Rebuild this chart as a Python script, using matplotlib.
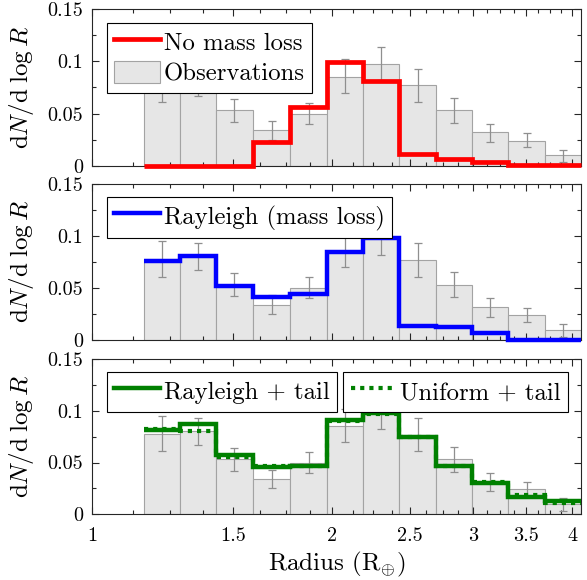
"""Radius distribution: observed histogram vs. three model step curves."""
import matplotlib

matplotlib.use("Agg")
import matplotlib.pyplot as plt  # noqa: E402
from matplotlib.ticker import FixedLocator, NullFormatter  # noqa: E402

plt.rcParams["font.family"] = ["cmr10"]
plt.rcParams["mathtext.fontset"] = "cm"
plt.rcParams["axes.unicode_minus"] = False
plt.rcParams["axes.formatter.use_mathtext"] = True

# radius bin edges (R_earth) and observed occurrence
bin_edges = [1.160, 1.290, 1.429, 1.591, 1.771, 1.970, 2.188,
             2.426, 2.699, 2.996, 3.324, 3.697, 4.107]
obs = [0.078, 0.080, 0.053, 0.034, 0.050, 0.085, 0.098,
       0.077, 0.053, 0.032, 0.024, 0.010]
obs_lo = [0.061, 0.067, 0.042, 0.025, 0.040, 0.070, 0.082,
          0.061, 0.041, 0.0225, 0.0177, 0.0033]
obs_hi = [0.095, 0.093, 0.064, 0.043, 0.0605, 0.102, 0.114,
          0.093, 0.065, 0.040, 0.031, 0.0154]

no_mass_loss = [0.0, 0.0, 0.0, 0.023, 0.0566, 0.099, 0.0816,
                0.0112, 0.0064, 0.0033, 0.0003, 0.0003]
rayleigh = [0.0763, 0.0808, 0.0522, 0.0417, 0.0439, 0.0849, 0.0978,
            0.0135, 0.0122, 0.0064, 0.0003, 0.0003]
rayleigh_tail = [0.081, 0.0875, 0.057, 0.0458, 0.0464, 0.0913, 0.0977,
                 0.0746, 0.0464, 0.0304, 0.0169, 0.013]
uniform_tail = [0.082, 0.0804, 0.0555, 0.047, 0.047, 0.090, 0.097,
                0.075, 0.047, 0.031, 0.0188, 0.0105]

x_major = [1, 1.5, 2, 2.5, 3, 3.5, 4]
x_labels = ["1", "1.5", "2", "2.5", "3", "3.5", "4"]
y_major = [0, 0.05, 0.1, 0.15]
y_labels = ["0", "0.05", "0.1", "0.15"]

BAR_FACE = "#e6e6e6"
BAR_EDGE = "#a3a3a3"
ERR_COL = "#8f8f8f"
SPINE = "#262626"


def _obs(ax):
    lefts = bin_edges[:-1]
    widths = [b - a for a, b in zip(bin_edges[:-1], bin_edges[1:])]
    bars = ax.bar(lefts, obs, width=widths, align="edge", color=BAR_FACE,
                  edgecolor=BAR_EDGE, linewidth=0.8, zorder=1)
    centers = [(a * b) ** 0.5 for a, b in zip(bin_edges[:-1], bin_edges[1:])]
    yerr = [[o - lo for o, lo in zip(obs, obs_lo)],
            [hi - o for o, hi in zip(obs, obs_hi)]]
    ax.errorbar(centers, obs, yerr=yerr, fmt="none", ecolor=ERR_COL,
                elinewidth=0.9, capsize=2.6, capthick=0.9, zorder=2)
    return bars


def _style(ax, bottom):
    ax.set_xscale("log")
    ax.set_xlim(1, bin_edges[-1])
    ax.set_ylim(0, 0.15)
    ax.xaxis.set_major_locator(FixedLocator(x_major))
    ax.xaxis.set_minor_locator(FixedLocator([1 + 0.125 * i for i in range(25)]))
    ax.xaxis.set_minor_formatter(NullFormatter())
    if bottom:
        ax.set_xticklabels(x_labels)
    else:
        ax.set_xticklabels([])
    ax.yaxis.set_major_locator(FixedLocator(y_major))
    ax.yaxis.set_minor_locator(FixedLocator([0.025, 0.075, 0.125]))
    ax.set_yticklabels(y_labels)
    ax.tick_params(which="both", direction="in", top=True, right=True,
                   color=SPINE, width=0.8, labelsize=14.5)
    ax.tick_params(which="major", length=5)
    ax.tick_params(which="minor", length=3)
    ax.tick_params(axis="y", pad=6.5)
    ax.tick_params(axis="x", pad=9)
    for s in ax.spines.values():
        s.set_color(SPINE)
        s.set_linewidth(0.8)
    ax.set_ylabel(r"$\mathrm{d}N/\mathrm{d}\;\log R$", fontsize=18, labelpad=8)


def _legend(ax, handles, labels, x):
    leg = ax.legend(handles, labels, loc="upper left", bbox_to_anchor=(x, 0.914),
                    borderaxespad=0, fontsize=17.8, fancybox=False,
                    framealpha=1, edgecolor="black", handlelength=1.85,
                    handleheight=1.0, handletextpad=0.15, borderpad=0.3,
                    labelspacing=0.25)
    leg.get_frame().set_linewidth(0.8)
    return leg


fig = plt.figure(figsize=(5.87, 5.80), dpi=100)
ax1 = fig.add_axes([0.1572, 0.7143, 0.8334, 0.2697])
ax2 = fig.add_axes([0.1572, 0.4138, 0.8334, 0.2690])
ax3 = fig.add_axes([0.1572, 0.1133, 0.8334, 0.2678])

# panel 1
bars = _obs(ax1)
red = ax1.stairs(no_mass_loss, bin_edges, baseline=None, color="#ff0000",
                 linewidth=3.4, zorder=3, clip_on=False)
_style(ax1, False)
_legend(ax1, [red, bars], ["No mass loss", "Observations"], 0.0295)

# panel 2
_obs(ax2)
blue = ax2.stairs(rayleigh, bin_edges, baseline=None, color="#0000ff",
                  linewidth=3.2, zorder=3, clip_on=False)
_style(ax2, False)
_legend(ax2, [blue], ["Rayleigh (mass loss)"], 0.0295)

# panel 3
_obs(ax3)
g1 = ax3.stairs(rayleigh_tail, bin_edges, baseline=None, color="#008000",
                linewidth=3.2, zorder=3, clip_on=False)
g2 = ax3.stairs(uniform_tail, bin_edges, baseline=None, color="#008000",
                linewidth=3.0, linestyle=(0, (1, 1.2)), zorder=4, clip_on=False)
_style(ax3, True)
leg_a = _legend(ax3, [g1], ["Rayleigh + tail"], 0.0295)
ax3.add_artist(leg_a)
_legend(ax3, [g2], ["Uniform + tail"], 0.513)
ax3.set_xlabel(r"Radius ($\mathrm{R}_{\oplus}$)", fontsize=18, labelpad=4)

fig.savefig("out.png", dpi=100)
